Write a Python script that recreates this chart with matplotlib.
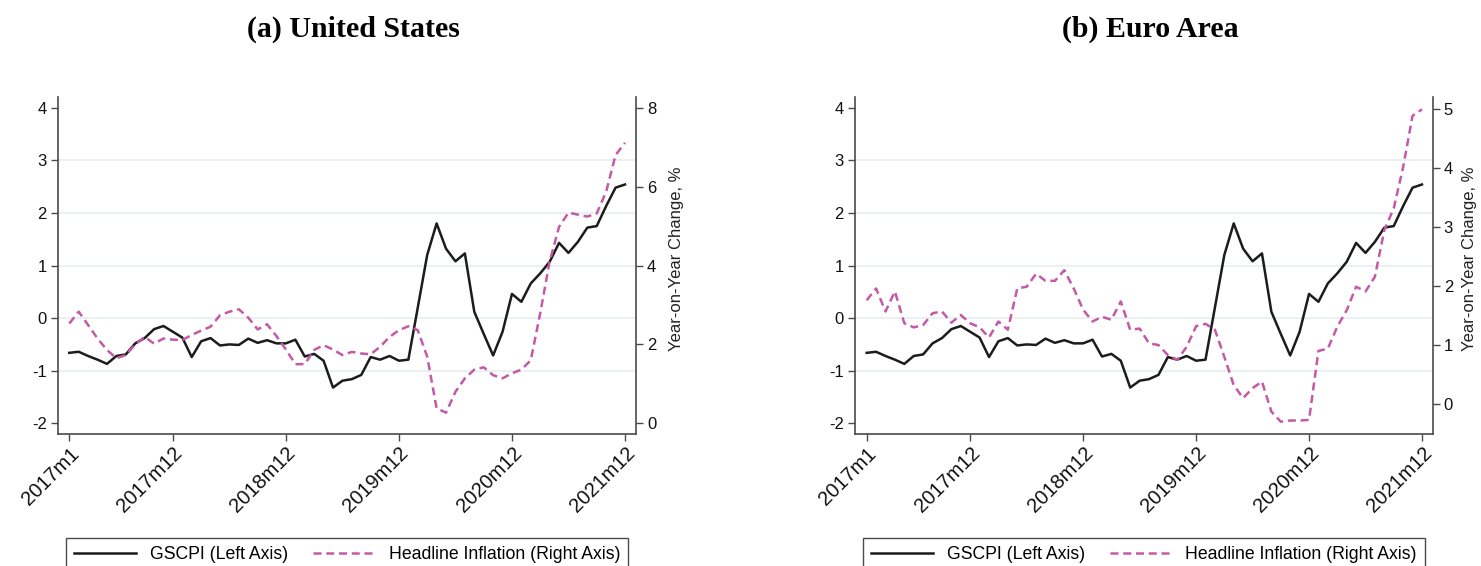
import matplotlib
matplotlib.use("Agg")
import matplotlib.pyplot as plt
import numpy as np

# Monthly observations, 2017m1 .. 2021m12
months = np.arange(60)
tick_pos = [0, 11, 23, 35, 47, 59]
tick_labels = ["2017m1", "2017m12", "2018m12", "2019m12", "2020m12", "2021m12"]

# Global Supply Chain Pressure Index (standard deviations)
gscpi = [
    -0.66, -0.64, -0.72, -0.79, -0.87, -0.72, -0.69, -0.48, -0.38, -0.21, -0.15, -0.26,
    -0.37, -0.74, -0.44, -0.38, -0.52, -0.50, -0.51, -0.39, -0.47, -0.42, -0.48, -0.48,
    -0.41, -0.73, -0.68, -0.81, -1.32, -1.19, -1.16, -1.08, -0.74, -0.79, -0.72, -0.81,
    -0.79, 0.20, 1.20, 1.80, 1.32, 1.08, 1.23, 0.12, -0.30, -0.71, -0.26, 0.46,
    0.31, 0.66, 0.85, 1.07, 1.43, 1.24, 1.45, 1.72, 1.75, 2.13, 2.48, 2.54,
]

# Headline CPI inflation, United States (% y/y)
infl_us = [
    2.53, 2.83, 2.49, 2.15, 1.86, 1.65, 1.73, 2.00, 2.19, 2.02, 2.15, 2.12,
    2.11, 2.24, 2.35, 2.45, 2.74, 2.83, 2.89, 2.68, 2.38, 2.51, 2.21, 1.87,
    1.50, 1.50, 1.86, 1.98, 1.87, 1.73, 1.81, 1.77, 1.75, 1.94, 2.19, 2.36,
    2.46, 2.36, 1.69, 0.38, 0.27, 0.80, 1.14, 1.36, 1.42, 1.22, 1.14, 1.27,
    1.36, 1.60, 2.79, 4.10, 4.98, 5.34, 5.29, 5.24, 5.32, 5.87, 6.80, 7.11,
]

# Headline HICP inflation, euro area (% y/y)
infl_ea = [
    1.76, 1.96, 1.57, 1.91, 1.37, 1.30, 1.34, 1.54, 1.57, 1.38, 1.51, 1.37,
    1.30, 1.13, 1.40, 1.26, 1.96, 1.99, 2.21, 2.09, 2.09, 2.27, 1.96, 1.60,
    1.40, 1.48, 1.43, 1.74, 1.26, 1.28, 1.03, 1.00, 0.83, 0.75, 0.97, 1.32,
    1.36, 1.26, 0.80, 0.32, 0.10, 0.27, 0.38, -0.13, -0.30, -0.28, -0.28, -0.27,
    0.90, 0.94, 1.31, 1.59, 1.99, 1.91, 2.16, 2.95, 3.32, 4.02, 4.89, 5.00,
]

left_ticks = [-2, -1, 0, 1, 2, 3, 4]
right_ticks_us = [0, 2, 4, 6, 8]
right_ticks_ea = [0, 1, 2, 3, 4, 5]

plt.rcParams["font.family"] = ["Liberation Sans", "DejaVu Sans"]

W, H = 1481, 566
fig = plt.figure(figsize=(W / 100, H / 100), dpi=100)

SPINE = "#4a4a4a"
GRID = "#e7eff1"
BLACK = "#1c1c1c"
PINK = "#c45aa6"
FS = 12
XFS = 14.5
LFS = 12.7


def px_axes(x0, x1, y_top, y_bot):
    return [x0 / W, (H - y_bot) / H, (x1 - x0) / W, (y_bot - y_top) / H]


def panel(rect, infl, rticks, rlim, xlim, title, title_x, label_x):
    ax = fig.add_axes(rect)
    ax2 = ax.twinx()

    ax.plot(months, gscpi, color=BLACK, lw=1.8, solid_joinstyle="round",
            label="GSCPI (Left Axis)")
    ax2.plot(months, infl, color=PINK, lw=1.8, linestyle=(0, (3.2, 1.9)),
             label="Headline Inflation (Right Axis)")

    ax.set_xlim(*xlim)
    ax.set_ylim(-2.203, 4.209)
    ax2.set_ylim(*rlim)

    ax.set_yticks(left_ticks)
    ax.set_yticklabels([str(t) for t in left_ticks], fontsize=FS)
    ax2.set_yticks(rticks)
    ax2.set_yticklabels([str(t) for t in rticks], fontsize=FS)

    ax.set_xticks(tick_pos)
    ax.set_xticklabels(tick_labels, rotation=45, ha="right", va="top",
                       rotation_mode="anchor", fontsize=XFS)

    for g in [-1, 0, 1, 2, 3]:
        ax.axhline(g, color=GRID, lw=1.2, zorder=0)

    for a in (ax, ax2):
        a.spines["top"].set_visible(False)
        for s in ("left", "right", "bottom"):
            a.spines[s].set_color(SPINE)
            a.spines[s].set_linewidth(1.2)
        a.tick_params(colors=SPINE, labelcolor="#111111", length=5,
                      width=1.0, direction="out")
    ax.spines["right"].set_visible(False)
    ax2.spines["left"].set_visible(False)
    ax2.spines["bottom"].set_visible(False)
    ax.tick_params(axis="y", pad=3)
    ax.tick_params(axis="x", pad=2)
    ax2.tick_params(axis="y", pad=3)

    ax2.set_ylabel("Year-on-Year Change, %", fontsize=FS, color="#222222")
    ax2.yaxis.set_label_coords(label_x, 0.52)

    fig.text(title_x / W, 1 - 29 / H, title, ha="center", va="center",
             fontsize=21.5, fontweight="bold",
             family=["Liberation Serif", "DejaVu Serif"])

    h1, l1 = ax.get_legend_handles_labels()
    h2, l2 = ax2.get_legend_handles_labels()
    cx = rect[0] + rect[2] / 2
    fig.legend(h1 + h2, l1 + l2, loc="upper center",
               bbox_to_anchor=(cx, (H - 538) / H), ncol=2, fontsize=LFS,
               frameon=True, fancybox=False, edgecolor=SPINE,
               handlelength=3.5, handletextpad=0.8, columnspacing=1.4,
               borderpad=0.45, borderaxespad=0.0, framealpha=1)
    return ax, ax2


panel(px_axes(58, 636, 96.7, 434), infl_us, right_ticks_us,
      (-0.271, 8.279), (-1.2, 60.17), "(a) United States", 353, 1.057)
panel(px_axes(855, 1432.7, 96.7, 434), infl_ea, right_ticks_ea,
      (-0.509, 5.214), (-1.24, 60.14), "(b) Euro Area", 1150, 1.051)

fig.savefig("out.png", dpi=100, facecolor="white")
